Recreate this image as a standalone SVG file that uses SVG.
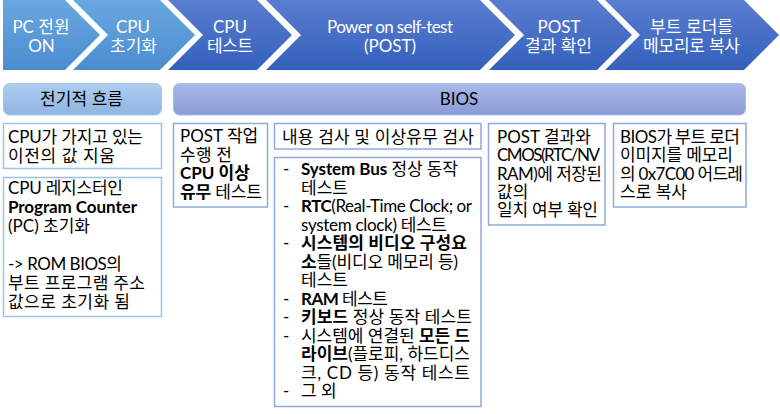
<svg xmlns="http://www.w3.org/2000/svg" width="780" height="414" viewBox="0 0 780 414">
<defs>
<linearGradient id="gL" x1="0" y1="0" x2="0" y2="1"><stop offset="0" stop-color="#6aa7df"/><stop offset="1" stop-color="#4a8dcf"/></linearGradient>
<linearGradient id="gD" x1="0" y1="0" x2="0" y2="1"><stop offset="0" stop-color="#5a7dcf"/><stop offset="1" stop-color="#3360bc"/></linearGradient>
<linearGradient id="gE" x1="0" y1="0" x2="0" y2="1"><stop offset="0" stop-color="#aecdef"/><stop offset="1" stop-color="#8fb5e2"/></linearGradient>
<linearGradient id="gB" x1="0" y1="0" x2="0" y2="1"><stop offset="0" stop-color="#a9b8e7"/><stop offset="1" stop-color="#8a9cd8"/></linearGradient>
<style>
text{font-family:Lato,"Noto Sans CJK KR",sans-serif;font-size:17px;fill:#000}
.w{fill:#fff}
.m{text-anchor:middle}
.b{font-weight:bold}
.bx1{fill:#fff;stroke:#9dc3e6;stroke-width:1.5}
.bx2{fill:#fff;stroke:#8faadc;stroke-width:1.5}
</style>
</defs>

<g id="steps">
<g id="step1"><path d="M3,0 H65 L100,35 L65,70 H3 Z" fill="url(#gL)"/><text class="w m" x="41" y="33">PC 전원</text><text class="w m" x="41.5" y="52">ON</text></g>
<g id="step2"><path d="M73,0 H160 L195,35 L160,70 H73 L108,35 Z" fill="url(#gL)"/><text class="w m" x="133" y="33">CPU</text><text class="w" x="110" y="52" textLength="47" lengthAdjust="spacing">초기화</text></g>
<g id="step3"><path d="M168,0 H257 L292,35 L257,70 H168 L203,35 Z" fill="url(#gD)"/><text class="w m" x="230" y="33">CPU</text><text class="w" x="207" y="52" textLength="46" lengthAdjust="spacing">테스트</text></g>
<g id="step4"><path d="M266,0 H480 L515,35 L480,70 H266 L301,35 Z" fill="url(#gD)"/><text class="w" x="327" y="33" textLength="126" lengthAdjust="spacing">Power on self-test</text><text class="w m" x="390" y="52">(POST)</text></g>
<g id="step5"><path d="M489,0 H597 L632,35 L597,70 H489 L524,35 Z" fill="url(#gD)"/><text class="w m" x="559" y="33">POST</text><text class="w" x="525" y="52" textLength="67" lengthAdjust="spacing">결과 확인</text></g>
<g id="step6"><path d="M605,0 H744 L779,35 L744,70 H605 L640,35 Z" fill="url(#gD)"/><text class="w" x="650" y="33" textLength="83" lengthAdjust="spacing">부트 로더를</text><text class="w" x="643" y="52" textLength="97" lengthAdjust="spacing">메모리로 복사</text></g>
</g>

<g id="hdr-elec"><rect x="3.5" y="83.5" width="158" height="31.5" rx="6" fill="url(#gE)" stroke="#a6c7ec"/><text x="40" y="105" textLength="83" lengthAdjust="spacing">전기적 흐름</text></g>
<g id="hdr-bios"><rect x="173.5" y="83.5" width="572" height="31.5" rx="6" fill="url(#gB)" stroke="#aab8e6"/><text class="m" x="459" y="105">BIOS</text></g>

<g id="box-clear"><rect class="bx1" x="3.5" y="123.5" width="158" height="45"/>
<text x="8" y="143" textLength="135" lengthAdjust="spacing">CPU가 가지고 있는</text>
<text x="8" y="162" textLength="107" lengthAdjust="spacing">이전의 값 지움</text></g>

<g id="box-pc"><rect class="bx1" x="3.5" y="177.5" width="158" height="139"/>
<text x="8" y="194" textLength="115" lengthAdjust="spacing">CPU 레지스터인</text>
<text x="8" y="213" class="b" textLength="129" lengthAdjust="spacing">Program Counter</text>
<text x="8" y="232" textLength="82" lengthAdjust="spacing">(PC) 초기화</text>
<text x="8" y="270" textLength="114" lengthAdjust="spacing">-&gt; ROM BIOS의</text>
<text x="8" y="289" textLength="137" lengthAdjust="spacing">부트 프로그램 주소</text>
<text x="8" y="308" textLength="122" lengthAdjust="spacing">값으로 초기화 됨</text>
</g>

<g id="box-cputest"><rect class="bx2" x="173.5" y="123.5" width="94" height="83.5"/>
<text x="180" y="142">POST 작업</text>
<text x="180" y="161" textLength="52" lengthAdjust="spacing">수행 전</text>
<text x="180" y="179" class="b">CPU 이상</text>
<text x="180" y="198" textLength="82" lengthAdjust="spacing"><tspan class="b">유무</tspan> 테스트</text>
</g>

<g id="box-check"><rect class="bx2" x="274.5" y="123.5" width="206.5" height="25.5"/><text x="282" y="143" textLength="192" lengthAdjust="spacing">내용 검사 및 이상유무 검사</text></g>

<g id="box-list"><rect class="bx2" x="274.5" y="157.5" width="206.5" height="249"/>
<text x="283" y="175">-</text><text x="301" y="175" textLength="157" lengthAdjust="spacing"><tspan class="b">System Bus</tspan> 정상 동작</text>
<text x="301" y="193.5" textLength="47" lengthAdjust="spacing">테스트</text>
<text x="283" y="212">-</text><text x="301" y="212" textLength="171" lengthAdjust="spacing"><tspan class="b">RTC</tspan>(Real-Time Clock; or</text>
<text x="301" y="230.5" textLength="146" lengthAdjust="spacing">system clock) 테스트</text>
<text x="283" y="249">-</text><text x="301" y="249" class="b" textLength="166" lengthAdjust="spacing">시스템의 비디오 구성요</text>
<text x="301" y="267.5" textLength="157" lengthAdjust="spacing"><tspan class="b">소</tspan>들(비디오 메모리 등)</text>
<text x="301" y="286" textLength="47" lengthAdjust="spacing">테스트</text>
<text x="283" y="304.5">-</text><text x="301" y="304.5" textLength="87" lengthAdjust="spacing"><tspan class="b">RAM</tspan> 테스트</text>
<text x="283" y="323">-</text><text x="301" y="323" textLength="171" lengthAdjust="spacing"><tspan class="b">키보드</tspan> 정상 동작 테스트</text>
<text x="283" y="341.5">-</text><text x="301" y="341.5" textLength="169" lengthAdjust="spacing">시스템에 연결된 <tspan class="b">모든 드</tspan></text>
<text x="301" y="360" textLength="169" lengthAdjust="spacing"><tspan class="b">라이브</tspan>(플로피, 하드디스</text>
<text x="301" y="378.5" textLength="169" lengthAdjust="spacing">크, CD 등) 동작 테스트</text>
<text x="283" y="397">-</text><text x="301" y="397">그 외</text>
</g>

<g id="box-result"><rect class="bx2" x="488.5" y="123.5" width="116.5" height="101.5"/>
<text x="497" y="143">POST 결과와</text>
<text x="497" y="161" textLength="103" lengthAdjust="spacing">CMOS(RTC/NV</text>
<text x="497" y="180" textLength="105" lengthAdjust="spacing">RAM)에 저장된</text>
<text x="497" y="198">값의</text>
<text x="497" y="216" textLength="101" lengthAdjust="spacing">일치 여부 확인</text>
</g>

<g id="box-boot"><rect class="bx2" x="613.5" y="123.5" width="132.5" height="83.5"/>
<text x="620" y="143" textLength="120" lengthAdjust="spacing">BIOS가 부트 로더</text>
<text x="620" y="161" textLength="113" lengthAdjust="spacing">이미지를 메모리</text>
<text x="620" y="180" textLength="123" lengthAdjust="spacing">의 0x7C00 어드레</text>
<text x="620" y="198">스로 복사</text>
</g>

<g id="connectors"></g>
</svg>
